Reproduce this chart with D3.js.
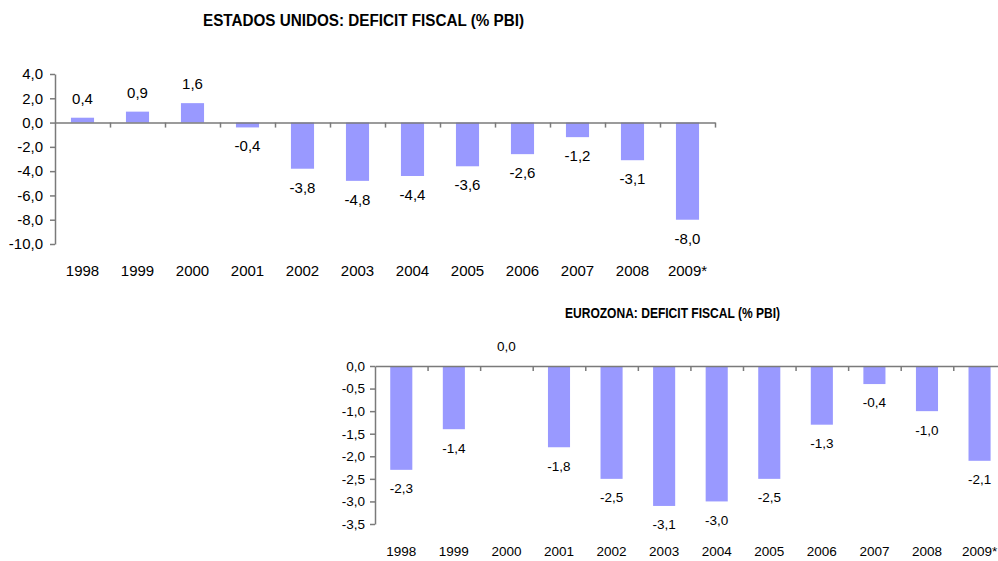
<!DOCTYPE html>
<html>
<head>
<meta charset="utf-8">
<script src="https://cdn.jsdelivr.net/npm/d3@7"></script>
<style>
  html, body { margin: 0; padding: 0; background: #fff; }
  svg { display: block; font-family: "Liberation Sans", Arial, sans-serif; }
</style>
</head>
<body>
<svg id="chart" width="998" height="561"></svg>
<script>
// ---- data ----
const years = ["1998","1999","2000","2001","2002","2003","2004","2005","2006","2007","2008","2009*"];
const usValues = [0.4, 0.9, 1.6, -0.4, -3.8, -4.8, -4.4, -3.6, -2.6, -1.2, -3.1, -8.0];
const euValues = [-2.3, -1.4, 0.0, -1.8, -2.5, -3.1, -3.0, -2.5, -1.3, -0.4, -1.0, -2.1];
const usTicks = [4, 2, 0, -2, -4, -6, -8, -10];
const euTicks = [0, -0.5, -1, -1.5, -2, -2.5, -3, -3.5];
const usTitle = "ESTADOS UNIDOS: DEFICIT FISCAL (% PBI)";
const euTitle = "EUROZONA: DEFICIT FISCAL (% PBI)";

const fmt = v => (v < 0 ? "-" : "") + Math.abs(v).toFixed(1).replace(".", ",");
const svg = d3.select("#chart");
const barColor = "#9999ff";
const axisColor = "#7a7a7a";

function drawChart(cfg) {
  const g = svg.append("g");
  const x = d3.scaleBand().domain(years).range([cfg.x0, cfg.x1]).paddingInner(0.58).paddingOuter(0.29);
  const xi = d3.scaleLinear().domain([0, years.length]).range([cfg.x0, cfg.x1]);
  const y = d3.scaleLinear().domain(cfg.domain).range([cfg.yBottom, cfg.yTop]);

  // title
  g.append("text")
    .attr("x", cfg.titleX).attr("y", cfg.titleY)
    .attr("text-anchor", "middle")
    .attr("font-weight", "bold")
    .attr("font-size", cfg.titleSize)
    .attr("textLength", cfg.titleLen)
    .attr("lengthAdjust", "spacingAndGlyphs")
    .attr("fill", "#000")
    .text(cfg.title);

  // bars
  g.selectAll("rect.bar").data(cfg.values).enter().append("rect")
    .attr("class", "bar")
    .attr("x", (d, i) => x(years[i]))
    .attr("width", x.bandwidth())
    .attr("y", d => y(Math.max(0, d)))
    .attr("height", d => Math.abs(y(d) - y(0)))
    .attr("fill", barColor);

  // y axis
  const ya = g.append("g")
    .attr("transform", `translate(${cfg.x0},0)`)
    .call(d3.axisLeft(y).tickValues(cfg.ticks).tickFormat(fmt).tickSize(5).tickSizeOuter(0).tickPadding(cfg.pad));
  ya.select(".domain").attr("stroke", axisColor).attr("stroke-width", 1.5);
  ya.selectAll(".tick line").attr("stroke", axisColor).attr("stroke-width", 1.5);
  ya.selectAll(".tick text").attr("font-size", cfg.fs).attr("fill", "#000")
    .attr("font-family", "Liberation Sans, Arial, sans-serif");

  // x axis line with ticks at category boundaries
  const xa = g.append("g")
    .attr("transform", `translate(0,${y(0)})`)
    .call(d3.axisBottom(xi).tickValues(d3.range(1, years.length + 1)).tickFormat("").tickSize(5).tickSizeOuter(0));
  xa.select(".domain").attr("stroke", axisColor).attr("stroke-width", 1.5);
  xa.selectAll(".tick line").attr("stroke", axisColor).attr("stroke-width", 1.5);

  // category labels
  g.selectAll("text.cat").data(years).enter().append("text")
    .attr("class", "cat")
    .attr("x", d => x(d) + x.bandwidth() / 2)
    .attr("y", cfg.catY)
    .attr("dy", "0.36em")
    .attr("text-anchor", "middle")
    .attr("font-size", cfg.fs)
    .attr("fill", "#000")
    .text(d => d);

  // data labels
  g.selectAll("text.val").data(cfg.values).enter().append("text")
    .attr("class", "val")
    .attr("x", (d, i) => x(years[i]) + x.bandwidth() / 2)
    .attr("y", d => d >= 0 ? y(d) - 19.5 : y(d) + 18.5)
    .attr("dy", "0.36em")
    .attr("text-anchor", "middle")
    .attr("font-size", cfg.fs)
    .attr("fill", "#000")
    .text(d => fmt(d));
}

drawChart({
  values: usValues, ticks: usTicks, domain: [-10, 4], title: usTitle,
  x0: 55, x1: 715, yTop: 74, yBottom: 244,
  titleX: 363.5, titleY: 26, titleSize: 16, titleLen: 321,
  catY: 270.7, fs: 15, pad: 7
});

drawChart({
  values: euValues, ticks: euTicks, domain: [-3.5, 0], title: euTitle,
  x0: 375, x1: 375 + 52.57 * 12, yTop: 366, yBottom: 524,
  titleX: 672.5, titleY: 318, titleSize: 15, titleLen: 215,
  catY: 551, fs: 13.5, pad: 5
});
</script>
</body>
</html>
